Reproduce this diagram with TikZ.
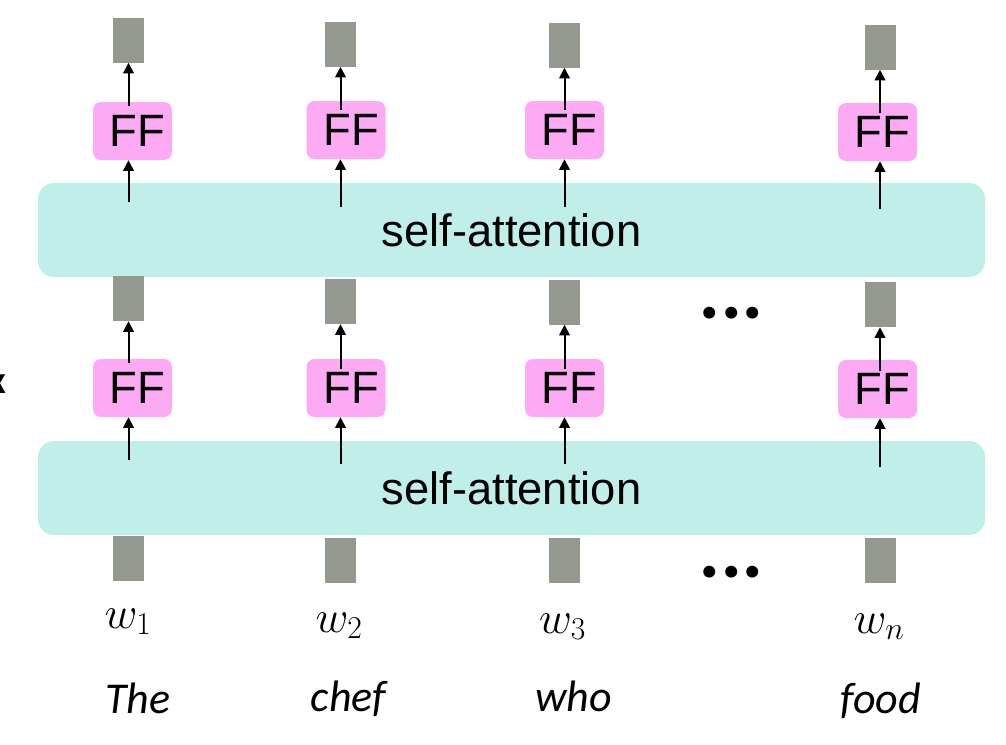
\RequirePackage{fix-cm}
\documentclass[tikz,border=0pt]{standalone}
\usepackage{fontspec}
\newfontfamily\arialf{Liberation Sans}
\newfontfamily\calif{Carlito}
\usetikzlibrary{arrows.meta}
\definecolor{vecgray}{RGB}{148,153,144}
\definecolor{ffpink}{RGB}{253,170,245}
\definecolor{attteal}{RGB}{191,239,232}
\begin{document}
\begin{tikzpicture}[x=0.75pt,y=-0.75pt,
 vec/.style={fill=vecgray, minimum width=23.25pt, minimum height=33.75pt, inner sep=0pt, draw=none},
 ffbox/.style={fill=ffpink, rounded corners=6pt, minimum width=59.25pt, minimum height=43.5pt, inner sep=0pt, font=\arialf\fontsize{34}{40}\selectfont},
 attbox/.style={fill=attteal, rounded corners=12pt, minimum width=710.25pt, minimum height=70.5pt, inner sep=0pt, font=\arialf\fontsize{34}{40}\selectfont},
 arr/.style={line width=1.5pt, -{Triangle[width=8pt,length=8pt]}},
 wlab/.style={anchor=base, inner sep=0pt, font=\fontsize{34}{40}\selectfont},
 word/.style={anchor=base, inner sep=0pt, font=\calif\itshape\fontsize{33}{40}\selectfont},
 dotsty/.style={anchor=base, inner sep=0pt, font=\calif\bfseries\itshape\fontsize{60}{60}\selectfont}]
\useasboundingbox (0,0) rectangle (1006,744);
\begin{scope}
\clip (0,0) rectangle (1006,744);
% attention layers
\node[attbox] (sa1) at (511.5,230) {self-attention};
\node[attbox] (sa2) at (511.5,488) {self-attention};
% top vectors
\node[vec] (t1) at (128.5,40) {};
\node[vec] (t2) at (340.5,44) {};
\node[vec] (t3) at (564.5,45) {};
\node[vec] (t4) at (880,47) {};
% top FF
\node[ffbox] (f1) at (132.5,131) {\hspace{7.5pt}FF};
\node[ffbox] (f2) at (346,130) {\hspace{7.5pt}FF};
\node[ffbox] (f3) at (564.5,130) {\hspace{7.5pt}FF};
\node[ffbox] (f4) at (877.5,132) {\hspace{7.5pt}FF};
% middle vectors
\node[vec] (m1) at (128.5,298.5) {};
\node[vec] (m2) at (340.5,301.5) {};
\node[vec] (m3) at (564.5,302) {};
\node[vec] (m4) at (880,304.5) {};
% lower FF
\node[ffbox] (g1) at (132.5,388) {\hspace{7.5pt}FF};
\node[ffbox] (g2) at (346,388) {\hspace{7.5pt}FF};
\node[ffbox] (g3) at (564.5,388) {\hspace{7.5pt}FF};
\node[ffbox] (g4) at (877.5,389) {\hspace{7.5pt}FF};
% input vectors
\node[vec] (b1) at (128.5,558.5) {};
\node[vec] (b2) at (340.5,560.5) {};
\node[vec] (b3) at (564.5,560.5) {};
\node[vec] (b4) at (880,560.5) {};
% arrow start points
\coordinate (u1) at (128.5,106); \coordinate (u2) at (340.5,110);
\coordinate (u3) at (564.5,110); \coordinate (u4) at (880,113);
\coordinate (a1) at (128.5,202); \coordinate (a2) at (340.5,207);
\coordinate (a3) at (564.5,207); \coordinate (a4) at (880,209);
\coordinate (v1) at (128.5,363); \coordinate (v2) at (340.5,369);
\coordinate (v3) at (564.5,369); \coordinate (v4) at (880,371);
\coordinate (c1) at (128.5,460); \coordinate (c2) at (340.5,464);
\coordinate (c3) at (564.5,464); \coordinate (c4) at (880,467);
% arrows
\foreach \i in {1,2,3,4}{
  \draw[arr] (u\i) -- (t\i.south);
  \draw[arr] (a\i) -- (a\i |- f\i.south);
  \draw[arr] (v\i) -- (m\i.south);
  \draw[arr] (c\i) -- (c\i |- g\i.south);
}
% dots
\node[dotsty] (d1) at (733,318) {...};
\node[dotsty] (d2) at (733,577) {...};
% labels
\node[wlab] (w1) at (128,628) {$w_1$};
\node[wlab] (w2) at (339,632) {$w_2$};
\node[wlab] (w3) at (562.5,633) {$w_3$};
\node[wlab] (wn) at (879,633) {$w_n$};
\node[word] (x1) at (138,713) {The};
\node[word] (x2) at (348.5,711) {chef};
\node[word] (x3) at (573.5,711) {who};
\node[word] (x4) at (880.5,713) {food};
% cut-off letter at left edge
\node[anchor=base east, inner sep=0pt, font=\calif\bfseries\fontsize{29}{30}\selectfont] (nx) at (7,393) {x};
\end{scope}
\end{tikzpicture}
\end{document}
